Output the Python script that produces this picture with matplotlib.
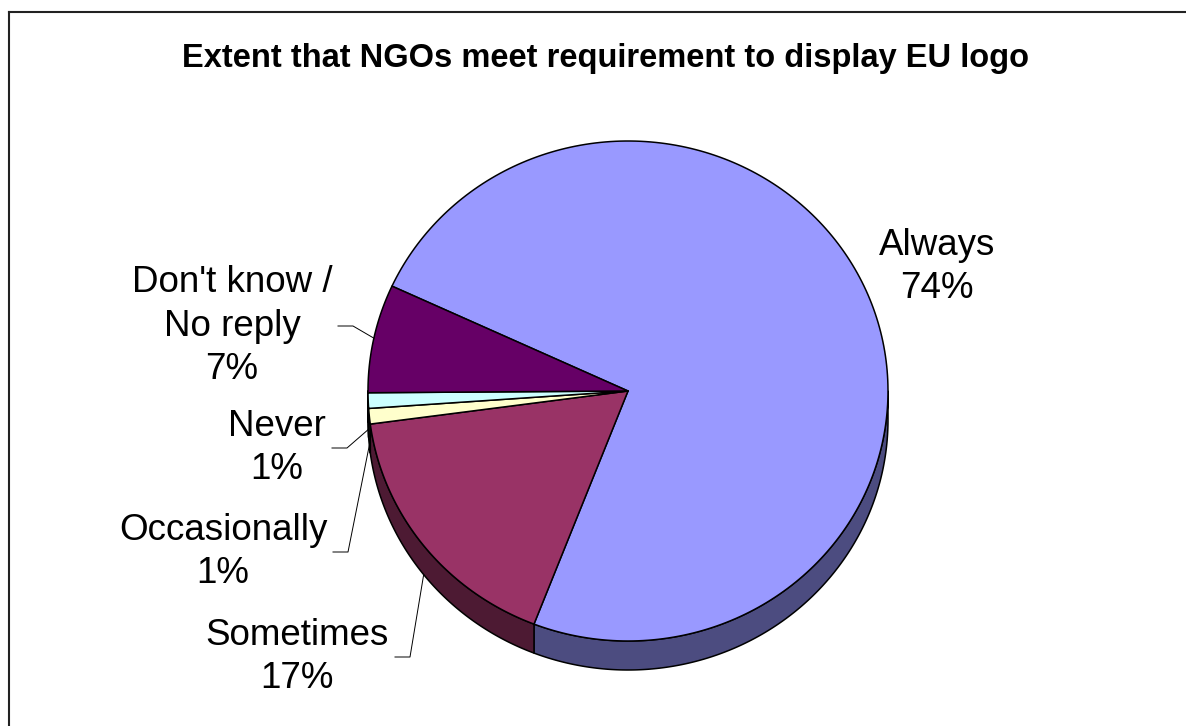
import numpy as np
import matplotlib.pyplot as plt
from matplotlib.patches import Polygon

plt.rcParams['font.family'] = ['Liberation Sans', 'DejaVu Sans']

# Survey answers, in the order they run clockwise round the pie
answers = ["Always", "Sometimes", "Occasionally", "Never", "Don't know /\nNo reply"]
shares = [74, 17, 1, 1, 7]
top_colors = ["#9999FF", "#993366", "#FFFFCC", "#CCFFFF", "#660066"]
side_colors = ["#4C4C80", "#4D1A33", "#808066", "#668080", "#330033"]

title = "Extent that NGOs meet requirement to display EU logo"

# layout of the tilted pie, in pixels of the figure
cx, cy = 628, 391
rx, ry = 260, 250
depth = 29
start_angle = 155.2

# label block centres and where each leader line starts
label_pos = [(937, 267), (297, 657), (223, 552), (277, 448), (232, 326)]
leader_x = [None, 395, 333, 332, 338]


def arc(t0, t1, dy=0.0, n=240):
    t = np.radians(np.linspace(t0, t1, n))
    return np.column_stack([cx + rx * np.cos(t), cy - ry * np.sin(t) + dy])


fig = plt.figure(figsize=(11.86, 7.26), dpi=100)
ax = fig.add_axes([0, 0, 1, 1])
ax.set_xlim(0, 1186)
ax.set_ylim(726, 0)
ax.axis('off')

frac = np.cumsum([0] + shares) / float(sum(shares))
bounds = start_angle - 360 * frac

# side walls first (only the front half of the rim is visible)
for i in range(len(shares)):
    hi, lo = bounds[i], bounds[i + 1]
    for k in (-360, 0, 360):
        a, b = max(lo, -180 + k), min(hi, k)
        if b > a:
            pts = np.vstack([arc(a, b), arc(b, a, depth)])
            ax.add_patch(Polygon(pts, closed=True, facecolor=side_colors[i],
                                 edgecolor='black', lw=1.1, joinstyle='round'))

# top faces
for i in range(len(shares)):
    hi, lo = bounds[i], bounds[i + 1]
    pts = np.vstack([[cx, cy], arc(hi, lo)])
    ax.add_patch(Polygon(pts, closed=True, facecolor=top_colors[i],
                         edgecolor='black', lw=1.1, joinstyle='round'))

# labels and leader lines
for i in range(len(shares)):
    x, y = label_pos[i]
    ax.text(x, y, f"{answers[i]}\n{shares[i]}%", ha='center', va='center',
            multialignment='center', fontsize=26.5, linespacing=1.3)
    if leader_x[i] is None:
        continue
    mid = (bounds[i] + bounds[i + 1]) / 2
    tx = cx + rx * np.cos(np.radians(mid))
    ty = cy - ry * np.sin(np.radians(mid))
    if np.sin(np.radians(mid)) < 0:
        ty += depth
    x0 = leader_x[i]
    ax.plot([x0, x0 + 15, tx], [y, y, ty], color='black', lw=0.7)

ax.text(605, 58, title, ha='center', va='center', fontsize=23.5, fontweight='bold')

# chart frame
ax.plot([9, 1186], [12, 12], color='#222222', lw=1.5, clip_on=False)
ax.plot([9, 9], [12, 726], color='#222222', lw=1.5, clip_on=False)

fig.savefig("out.png", dpi=100)
